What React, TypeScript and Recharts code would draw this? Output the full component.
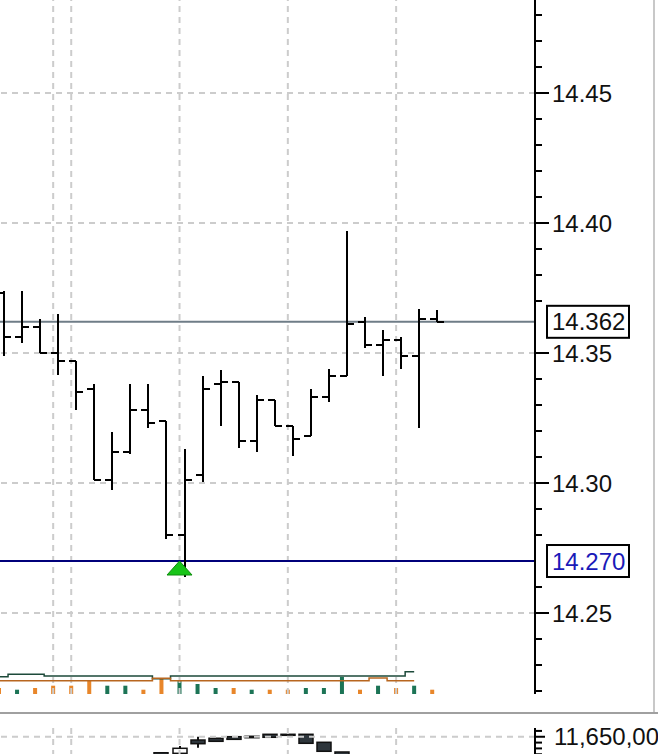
import React from 'react';
import { ComposedChart, Bar, Line, XAxis, YAxis, ReferenceLine, ReferenceDot } from 'recharts';

// ---------- data ----------
const barIndex = [0, 1, 2, 3, 4, 5, 6, 7, 8, 9, 10, 11, 12, 13, 14, 15, 16, 17, 18, 19, 20, 21, 22, 23, 24];
const opens = [14.373, 14.356, 14.36, 14.35, 14.347, 14.336, 14.301, 14.312, 14.328, 14.324, 14.28, 14.303, 14.338, 14.339, 14.316, 14.332, 14.322, 14.318, 14.333, 14.341, 14.362, 14.353, 14.355, 14.349, 14.363];
const highs = [14.374, 14.374, 14.363, 14.365, 14.347, 14.338, 14.3195, 14.338, 14.338, 14.324, 14.313, 14.341, 14.3435, 14.339, 14.334, 14.332, 14.322, 14.336, 14.344, 14.397, 14.364, 14.359, 14.356, 14.367, 14.3665];
const lows = [14.349, 14.354, 14.35, 14.3415, 14.328, 14.301, 14.2975, 14.311, 14.321, 14.2785, 14.264, 14.3005, 14.322, 14.3135, 14.312, 14.322, 14.3105, 14.318, 14.331, 14.341, 14.352, 14.341, 14.344, 14.321, 14.362];
const closes = [14.356, 14.36, 14.35, 14.347, 14.335, 14.301, 14.312, 14.328, 14.323, 14.28, 14.301, 14.336, 14.339, 14.316, 14.332, 14.322, 14.317, 14.333, 14.341, 14.361, 14.353, 14.355, 14.349, 14.363, 14.362];
const volumes = [60, 43, 60, 83, 83, 137, 83, 83, 43, 150, 137, 100, 60, 60, 43, 43, 43, 60, 60, 170, 43, 83, 60, 83, 43];
const volAvgFast = [173, 197, 197, 180, 180, 180, 180, 180, 180, 153, 180, 180, 180, 180, 180, 180, 180, 180, 180, 180, 180, 180, 180, 223, null];
const volAvgSlow = [133, 133, 133, 133, 133, 133, 133, 133, 133, 157, 133, 133, 133, 133, 133, 133, 133, 133, 133, 133, 133, 160, 133, 133, null];

// lower indicator panel (candles)
const lowerOpen = [null, null, null, null, null, null, null, null, null, 11622600, 11621600, 11644400, 11647400, 11650100, 11650800, 11654200, 11654200, 11654200, 11640500, 11623900, null, null, null, null, null];
const lowerHigh = [null, null, null, null, null, null, null, null, null, 11622600, 11634150, 11650100, 11647400, 11650100, 11650800, 11654200, 11654200, 11654200, 11640500, 11623900, null, null, null, null, null];
const lowerLow = [null, null, null, null, null, null, null, null, null, 11600000, 11621600, 11631200, 11642200, 11645600, 11648400, 11649100, 11652500, 11638800, 11625100, 11605000, null, null, null, null, null];
const lowerClose = [null, null, null, null, null, null, null, null, null, 11600000, 11630200, 11638100, 11642200, 11645600, 11648400, 11649100, 11652500, 11638800, 11625100, 11605000, null, null, null, null, null];

const priceTicks = [14.22, 14.23, 14.24, 14.25, 14.26, 14.27, 14.28, 14.29, 14.3, 14.31, 14.32, 14.33, 14.34, 14.35, 14.36, 14.362, 14.37, 14.38, 14.39, 14.4, 14.41, 14.42, 14.43, 14.44, 14.45, 14.46, 14.47, 14.48];
const majorPrices = [14.25, 14.3, 14.35, 14.4, 14.45];
const lastPrice = 14.362;
const signalPrice = 14.27;
const signalBar = 10;
const sessionBars = [3, 4, 10, 16, 22];
const lowerTicks = [11600000, 11610000, 11620000, 11630000, 11640000, 11650000, 11660000];
const lowerMajor = [11650000];

const priceTags = [
  { value: lastPrice, label: '14.362', color: '#111111' },
  { value: signalPrice, label: '14.270', color: '#1a1ab8' },
];

const rows = barIndex.map((i, k) => ({
  i,
  open: opens[k],
  high: highs[k],
  low: lows[k],
  close: closes[k],
  range: [lows[k], highs[k]],
  vol: volumes[k],
  up: closes[k] >= opens[k],
  avgA: volAvgFast[k],
  avgB: volAvgSlow[k],
  lopen: lowerOpen[k],
  lhigh: lowerHigh[k],
  llow: lowerLow[k],
  lclose: lowerClose[k],
  lrange: lowerHigh[k] == null ? null : [lowerLow[k], lowerHigh[k]],
}));

// ---------- layout constants ----------
const FONT = '"Liberation Sans", Arial, sans-serif';
const CHART_W = 668;
const AXIS_W = 123;
const PAD_RIGHT = 93.75;
const PRICE_DOMAIN: [number, number] = [14.21885, 14.48577];
const VOL_DOMAIN: [number, number] = [0, 6940];
const LOWER_DOMAIN: [number, number] = [11589600, 11665000];
const GRID = '#cccccc';
const DASH = '6 5';

// ---------- shapes ----------
function PriceTick(props: any) {
  const { x, y, payload } = props;
  const v = payload.value as number;
  const n = Math.round(v * 1000);
  const tag = priceTags.find((t) => Math.round(t.value * 1000) === n);
  const nearTag = priceTags.some((t) => Math.abs(t.value - v) < 0.005);
  const out: any[] = [];
  if (n % 10 === 0 && !nearTag) {
    const major = majorPrices.some((m) => Math.round(m * 1000) === n);
    out.push(<line key="t" x1={x} x2={x + (major ? 14 : 7)} y1={y} y2={y} stroke="#000" strokeWidth={2} />);
    if (major) {
      out.push(
        <text key="l" x={x + 17} y={y + 8.6} fontSize={24} fontFamily={FONT} fill="#111" textAnchor="start">
          {v.toFixed(2)}
        </text>
      );
    }
  }
  if (tag) {
    out.push(<rect key="r" x={x + 12} y={y - 16} width={82} height={32} fill="#fff" stroke="#000" strokeWidth={2} />);
    out.push(
      <text key="tl" x={x + 17} y={y + 8.6} fontSize={24} fontFamily={FONT} fill={tag.color} textAnchor="start">
        {tag.label}
      </text>
    );
  }
  return <g>{out}</g>;
}

function LowerTick(props: any) {
  const { x, y, payload } = props;
  const v = payload.value as number;
  const major = lowerMajor.includes(v);
  return (
    <g>
      <line x1={x} x2={x + (major ? 10 : 7)} y1={y} y2={y} stroke="#000" strokeWidth={2} />
      {major && (
        <text x={x + 19} y={y + 8.6} fontSize={24} fontFamily={FONT} fill="#111" textAnchor="start">
          {v.toLocaleString('en-US')}
        </text>
      )}
    </g>
  );
}

function OhlcShape(props: any) {
  const { x, y, width, height, payload } = props;
  if (!payload || y == null || height == null) return null;
  const { open, high, low, close } = payload;
  const top = Math.min(y, y + height);
  const h = Math.abs(height);
  const span = high - low;
  const yAt = (v: number) => top + (span === 0 ? 0 : ((high - v) / span) * h);
  const vx = Math.round(x + width / 2 + 4.5);
  const yo = Math.round(yAt(open));
  const yc = Math.round(yAt(close));
  return (
    <g>
      <line x1={vx} x2={vx} y1={Math.round(top)} y2={Math.round(top + h)} stroke="#000" strokeWidth={2} />
      <line x1={vx - 7} x2={vx} y1={yo} y2={yo} stroke="#000" strokeWidth={2} />
      <line x1={vx} x2={vx + 7} y1={yc} y2={yc} stroke="#000" strokeWidth={2} />
    </g>
  );
}

function VolShape(props: any) {
  const { x, y, width, height, payload } = props;
  if (!payload || height == null) return null;
  return <rect x={x} y={y} width={width} height={height} fill={payload.up ? '#1c7456' : '#e8862a'} />;
}

function CandleShape(props: any) {
  const { x, y, width, height, payload } = props;
  if (!payload || payload.lopen == null || y == null) return null;
  const top = Math.min(y, y + height);
  const h = Math.abs(height);
  const span = payload.lhigh - payload.llow;
  const yAt = (v: number) => top + (span === 0 ? 0 : ((payload.lhigh - v) / span) * h);
  const cx = Math.round(x + width / 2);
  const yO = yAt(payload.lopen);
  const yC = yAt(payload.lclose);
  const bt = Math.min(yO, yC);
  const bh = Math.max(1, Math.abs(yO - yC));
  const up = payload.lclose > payload.lopen;
  return (
    <g>
      <line x1={cx} x2={cx} y1={top} y2={top + h} stroke="#111" strokeWidth={2} />
      <rect x={cx - 7} y={bt} width={14} height={bh} fill={up ? '#ffffff' : '#2e363c'} stroke="#111" strokeWidth={1.5} />
    </g>
  );
}

function Triangle(props: any) {
  const { cx, cy } = props;
  if (cx == null || cy == null) return null;
  const pts = `${cx},${cy} ${cx - 12.5},${cy + 14} ${cx + 12.5},${cy + 14}`;
  return <polygon points={pts} fill="#18c418" stroke="#0c8c0c" strokeWidth={1} />;
}

// ---------- charts ----------
function MainBase() {
  return (
    <ComposedChart width={CHART_W} height={700} data={rows} margin={{ top: 0, right: 0, bottom: 6, left: 0 }}>
      <XAxis
        dataKey="i"
        type="category"
        padding={{ left: 0, right: PAD_RIGHT }}
        height={0}
        tick={false}
        tickLine={false}
        axisLine={{ stroke: '#000', strokeWidth: 2 }}
      />
      <YAxis
        yAxisId="p"
        orientation="right"
        width={AXIS_W}
        type="number"
        domain={PRICE_DOMAIN}
        allowDataOverflow
        ticks={priceTicks}
        interval={0}
        tick={<PriceTick />}
        tickLine={false}
        tickSize={0}
        tickMargin={0}
        axisLine={{ stroke: '#000', strokeWidth: 2 }}
      />
      <YAxis yAxisId="v" hide type="number" domain={VOL_DOMAIN} allowDataOverflow />
      {majorPrices.map((v) => (
        <ReferenceLine key={'h' + v} yAxisId="p" y={v} stroke={GRID} strokeWidth={2} strokeDasharray={DASH} />
      ))}
      {sessionBars.map((b) => (
        <ReferenceLine key={'v' + b} yAxisId="p" x={b} stroke={GRID} strokeWidth={2} strokeDasharray={DASH} />
      ))}
      <ReferenceLine yAxisId="p" y={lastPrice} stroke="#6f7d87" strokeWidth={2} />
      <ReferenceLine yAxisId="p" y={signalPrice} stroke="#00007a" strokeWidth={2} />
      <Bar yAxisId="v" dataKey="vol" barSize={4} isAnimationActive={false} shape={VolShape} />
      <Line yAxisId="v" type="step" dataKey="avgA" stroke="#1d4a3a" strokeWidth={1.5} dot={false} isAnimationActive={false} connectNulls={false} />
      <Line yAxisId="v" type="step" dataKey="avgB" stroke="#b8661f" strokeWidth={1.5} dot={false} isAnimationActive={false} connectNulls={false} />
    </ComposedChart>
  );
}

function PriceBars() {
  return (
    <ComposedChart width={CHART_W} height={700} data={rows} margin={{ top: 0, right: AXIS_W, bottom: 6, left: 0 }}>
      <XAxis dataKey="i" type="category" hide padding={{ left: 0, right: PAD_RIGHT }} />
      <YAxis hide type="number" domain={PRICE_DOMAIN} allowDataOverflow />
      <Bar dataKey="range" barSize={9} isAnimationActive={false} shape={OhlcShape} />
      <ReferenceDot x={signalBar} y={signalPrice} shape={Triangle} />
    </ComposedChart>
  );
}

function LowerPanel() {
  return (
    <ComposedChart width={CHART_W} height={46} data={rows} margin={{ top: 2, right: 0, bottom: 0, left: 0 }}>
      <XAxis
        dataKey="i"
        type="category"
        orientation="top"
        padding={{ left: 0, right: PAD_RIGHT }}
        height={0}
        tick={false}
        tickLine={false}
        axisLine={{ stroke: '#000', strokeWidth: 2 }}
      />
      <YAxis
        orientation="right"
        width={AXIS_W}
        type="number"
        domain={LOWER_DOMAIN}
        allowDataOverflow
        ticks={lowerTicks}
        interval={0}
        tick={<LowerTick />}
        tickLine={false}
        tickSize={0}
        tickMargin={0}
        axisLine={{ stroke: '#000', strokeWidth: 2 }}
      />
      {lowerMajor.map((v) => (
        <ReferenceLine key={'lh' + v} y={v} stroke={GRID} strokeWidth={2} strokeDasharray={DASH} />
      ))}
      {sessionBars.map((b) => (
        <ReferenceLine key={'lv' + b} x={b} stroke={GRID} strokeWidth={2} strokeDasharray={DASH} />
      ))}
      <Bar dataKey="lrange" barSize={14} isAnimationActive={false} shape={CandleShape} />
    </ComposedChart>
  );
}

export default function App() {
  return (
    <div style={{ position: 'relative', width: 658, height: 754, overflow: 'hidden', background: '#fff' }}>
      <style>{'body{margin:0;}'}</style>
      <div style={{ position: 'absolute', left: -10, top: 0 }}>
        <MainBase />
      </div>
      <div style={{ position: 'absolute', left: -10, top: 0 }}>
        <PriceBars />
      </div>
      <div style={{ position: 'absolute', left: 653, top: 0, width: 2, height: 712, background: '#c8c8c8' }} />
      <div style={{ position: 'absolute', left: 0, top: 712, width: 658, height: 2, background: '#a0a0a0' }} />
      <div style={{ position: 'absolute', left: -10, top: 726 }}>
        <LowerPanel />
      </div>
    </div>
  );
}
